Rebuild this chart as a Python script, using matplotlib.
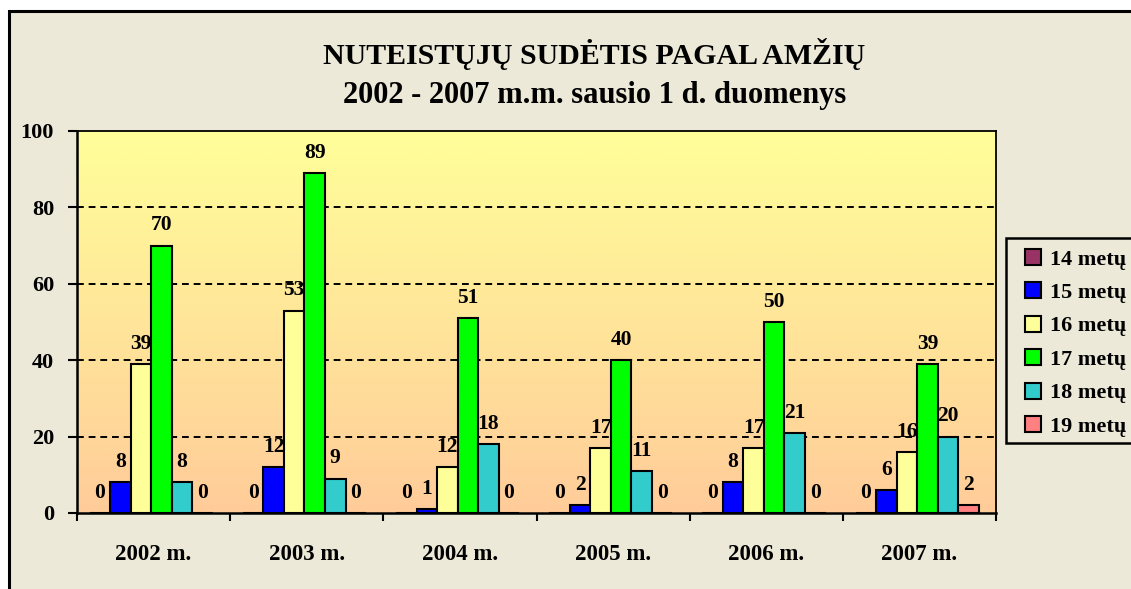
import numpy as np
import matplotlib.pyplot as plt
from matplotlib.colors import LinearSegmentedColormap
from matplotlib.patches import Rectangle
from matplotlib.lines import Line2D

# data
years = ['2002 m.', '2003 m.', '2004 m.', '2005 m.', '2006 m.', '2007 m.']
ages = ['14 metų', '15 metų', '16 metų', '17 metų', '18 metų', '19 metų']
v14 = [0, 0, 0, 0, 0, 0]
v15 = [8, 12, 1, 2, 8, 6]
v16 = [39, 53, 12, 17, 17, 16]
v17 = [70, 89, 51, 40, 50, 39]
v18 = [8, 9, 18, 11, 21, 20]
v19 = [0, 0, 0, 0, 0, 2]
colors = ['#993366', '#0000FF', '#FFFF99', '#00FF00', '#33CCCC', '#FF8080']

series = [v14, v15, v16, v17, v18, v19]
font = 'Liberation Serif'
bg = '#ECE9D8'
W, H = 1131, 589

fig = plt.figure(figsize=(W / 100, H / 100), dpi=100)
fig.patch.set_facecolor('white')

# outer chart frame (runs off the right and bottom edge)
fig.add_artist(Rectangle((9 / W, -0.1), 1.2, 1 - 11 / H + 0.1, transform=fig.transFigure,
                         facecolor=bg, edgecolor='black', linewidth=2.2, zorder=0))

ax = fig.add_axes([77 / W, 1 - 513 / H, (996 - 77) / W, (513 - 131) / H])
ax.set_facecolor('none')

# yellow -> peach gradient in the plot area
cmap = LinearSegmentedColormap.from_list('bg', ['#FFCC99', '#FFFF99'])
ax.imshow(np.linspace(0, 1, 256).reshape(-1, 1), cmap=cmap, extent=[0, 1, 0, 1],
          transform=ax.transAxes, aspect='auto', origin='lower', zorder=0)

x = np.arange(len(years))
w = 0.134
for i, vals in enumerate(series):
    xs = x + (i - 2.5) * w - 0.015
    ax.bar(xs, vals, w, color=colors[i], edgecolor='black', linewidth=1.5, zorder=3)
    for xi, v in zip(xs, vals):
        ax.annotate(str(v), (xi, v), xytext=(0, 11), textcoords='offset points',
                    ha='center', va='baseline', fontsize=15.5, fontweight='bold',
                    family=font, zorder=5)

ax.set_xlim(-0.5, len(years) - 0.5)
ax.set_ylim(0, 100)
ax.set_yticks(np.arange(0, 101, 20))
ax.set_yticklabels([str(t) for t in range(0, 101, 20)], fontsize=16, fontweight='bold', family=font)
for yv in [20, 40, 60, 80]:
    ax.axhline(yv, color='black', linestyle=(0, (3.5, 2.5)), linewidth=1.4, zorder=1)

ax.set_xticks(x)
ax.set_xticklabels(years, fontsize=16.5, fontweight='bold', family=font)
ax.set_xticks(np.arange(-0.5, len(years)), minor=True)
ax.tick_params(axis='x', which='major', length=0, pad=22)
ax.tick_params(axis='x', which='minor', length=6, width=1.5, direction='out')
ax.tick_params(axis='y', length=6.5, width=1.5, direction='out', pad=10)
for side in ['left', 'bottom']:
    ax.spines[side].set_linewidth(1.8)
for side in ['top', 'right']:
    ax.spines[side].set_linewidth(1.3)

fig.text(594 / W, 1 - 64 / H, 'NUTEISTŲJŲ SUDĖTIS PAGAL AMŽIŲ', ha='center', va='baseline',
         fontsize=21.5, fontweight='bold', family=font)
fig.text(595 / W, 1 - 103 / H, '2002 - 2007 m.m. sausio 1 d. duomenys', ha='center', va='baseline',
         fontsize=22, fontweight='bold', family=font)

# legend box (clipped by the right edge)
fig.add_artist(Rectangle((1006 / W, 1 - 443 / H), 0.2, (443 - 238) / H, transform=fig.transFigure,
                         facecolor=bg, edgecolor='black', linewidth=1.8, zorder=1))
handles = [Line2D([], [], linestyle='none', marker='s', markersize=11, markerfacecolor=c,
                  markeredgecolor='black', markeredgewidth=1.5) for c in colors]
leg = fig.legend(handles, ages, loc='upper left', bbox_to_anchor=(1022 / W, 1 - 249 / H),
                 frameon=False, borderpad=0, borderaxespad=0, handlelength=1.0,
                 handletextpad=0.25, labelspacing=0.58,
                 prop={'family': font, 'weight': 'bold', 'size': 16})
leg.set_zorder(2)

fig.savefig('out.png', dpi=100, facecolor=fig.get_facecolor())
